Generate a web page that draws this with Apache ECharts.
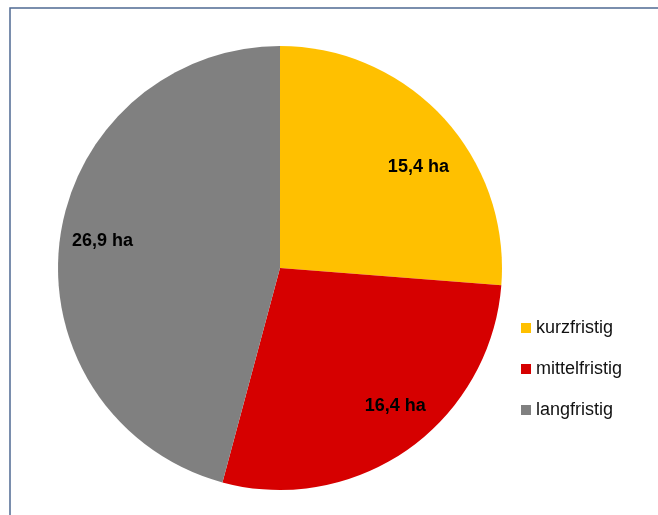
<!DOCTYPE html>
<html>
<head>
<meta charset="utf-8">
<script src="https://cdn.jsdelivr.net/npm/echarts@6/dist/echarts.min.js"></script>
<style>
  html, body { margin: 0; padding: 0; background: #ffffff; }
  #chart { width: 658px; height: 515px; }
</style>
</head>
<body>
<div id="chart"></div>
<script>
// Flächen nach Zeithorizont (ha)
const categories = ['kurzfristig', 'mittelfristig', 'langfristig'];
const values = [15.4, 16.4, 26.9];
const colors = ['#FFC000', '#D60000', '#808080'];

// small nudges for the value labels inside the slices
const labelNudge = [[7, 21], [12, -8], [0, -4]];

const pieData = categories.map((name, i) => ({
  name: name,
  value: values[i],
  itemStyle: { color: colors[i] }
}));

const fmt = v => v.toFixed(1).replace('.', ',') + ' ha';

const chart = echarts.init(document.getElementById('chart'), null, { renderer: 'canvas' });
chart.setOption({
  animation: false,
  backgroundColor: '#ffffff',
  graphic: [{
    type: 'rect',
    shape: { x: 10, y: 8, width: 700, height: 520 },
    style: { fill: 'none', stroke: '#4F6A93', lineWidth: 1.5 },
    silent: true,
    z: 100
  }],
  legend: {
    orient: 'vertical',
    left: 516,
    top: 314,
    itemWidth: 10,
    itemHeight: 10,
    itemGap: 23,
    itemTextGap: 4,
    icon: 'rect',
    data: categories,
    textStyle: {
      fontFamily: 'Liberation Sans, Arial, sans-serif',
      fontSize: 18,
      color: '#111111'
    }
  },
  series: [
    {
      type: 'pie',
      center: [280, 268],
      radius: [0, 222],
      startAngle: 90,
      clockwise: true,
      silent: true,
      label: { show: false },
      labelLine: { show: false },
      data: pieData
    },
    {
      // transparent ring that carries the value labels
      type: 'pie',
      center: [280, 268],
      radius: [130, 222],
      startAngle: 90,
      clockwise: true,
      silent: true,
      legendHoverLink: false,
      itemStyle: { color: 'rgba(0,0,0,0)' },
      label: {
        show: true,
        position: 'inside',
        formatter: p => fmt(p.value),
        fontFamily: 'Liberation Sans, Arial, sans-serif',
        fontSize: 18,
        fontWeight: 'bold',
        color: '#000000'
      },
      labelLine: { show: false },
      data: categories.map((name, i) => ({
        name: name,
        value: values[i],
        label: { offset: labelNudge[i] }
      }))
    }
  ]
});
</script>
</body>
</html>
